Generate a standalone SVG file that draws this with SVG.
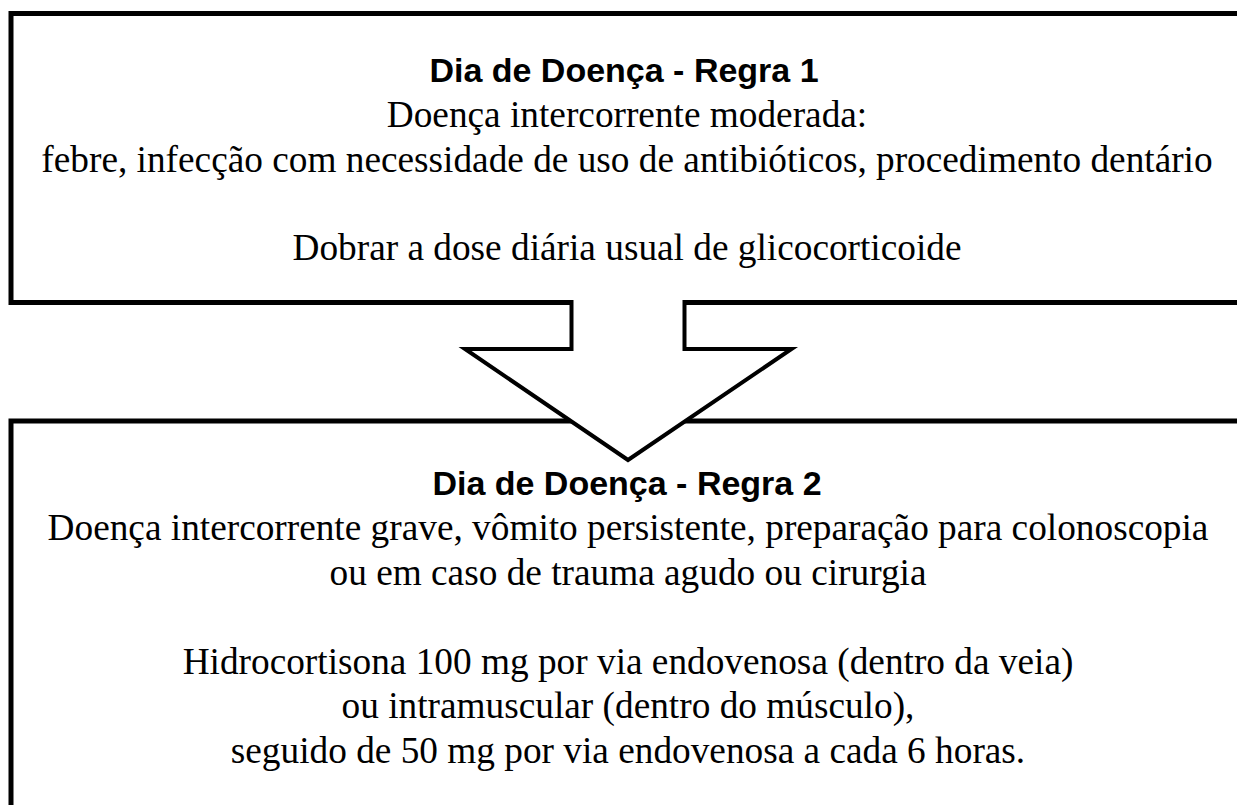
<svg xmlns="http://www.w3.org/2000/svg" width="1237" height="805" viewBox="0 0 1237 805">
  <style>
    .box { fill: #ffffff; stroke: #000000; stroke-width: 5; }
    .title { font-family: "Liberation Sans", Arial, sans-serif; font-weight: bold; font-size: 34px; fill: #000000; text-anchor: middle; }
    .body { font-family: "Liberation Serif", "Times New Roman", serif; font-size: 37.3px; fill: #000000; text-anchor: middle; }
    .arrowfill { fill: #ffffff; stroke: none; }
    .arrowline { fill: none; stroke: #000000; stroke-width: 4; stroke-linejoin: miter; }
  </style>
  <rect x="0" y="0" width="1237" height="805" fill="#ffffff"/>
  <g id="node-regra1">
    <rect class="box" x="11" y="13.5" width="1250" height="289"/>
    <text class="title" x="624" y="82">Dia de Doença - Regra 1</text>
    <text class="body" x="627" y="127">Doença intercorrente moderada:</text>
    <text class="body" x="627" y="172">febre, infecção com necessidade de uso de antibióticos, procedimento dentário</text>
    <text class="body" x="627" y="260">Dobrar a dose diária usual de glicocorticoide</text>
  </g>
  <g id="node-regra2">
    <rect class="box" x="11" y="421" width="1250" height="420"/>
    <text class="title" x="627" y="495">Dia de Doença - Regra 2</text>
    <text class="body" x="628" y="540">Doença intercorrente grave, vômito persistente, preparação para colonoscopia</text>
    <text class="body" x="628" y="585">ou em caso de trauma agudo ou cirurgia</text>
    <text class="body" x="628" y="674">Hidrocortisona 100 mg por via endovenosa (dentro da veia)</text>
    <text class="body" x="628" y="718">ou intramuscular (dentro do músculo),</text>
    <text class="body" x="628" y="763">seguido de 50 mg por via endovenosa a cada 6 horas.</text>
  </g>
  <g id="connectors">
    <polygon class="arrowfill" points="571.5,299.5 684.5,299.5 684.5,349 791.5,349 628,460 465,349 571.5,349"/>
    <polyline class="arrowline" points="571.5,300 571.5,349 465,349 628,460 791.5,349 684.5,349 684.5,300"/>
  </g>
</svg>
